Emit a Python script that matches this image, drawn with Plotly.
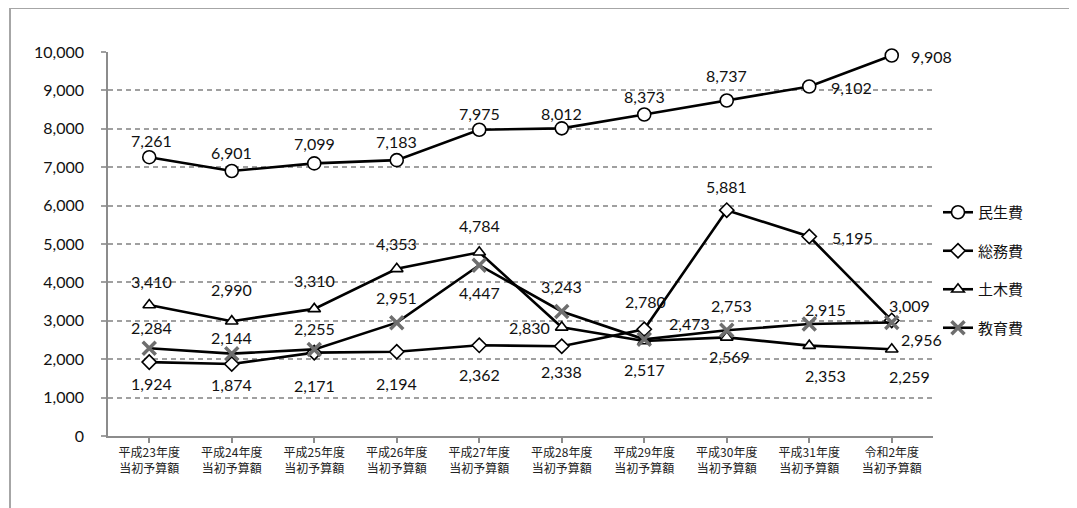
import plotly.graph_objects as go

categories = ["平成23年度<br>当初予算額", "平成24年度<br>当初予算額", "平成25年度<br>当初予算額",
              "平成26年度<br>当初予算額", "平成27年度<br>当初予算額", "平成28年度<br>当初予算額",
              "平成29年度<br>当初予算額", "平成30年度<br>当初予算額", "平成31年度<br>当初予算額",
              "令和2年度<br>当初予算額"]

minsei = [7261, 6901, 7099, 7183, 7975, 8012, 8373, 8737, 9102, 9908]
somu = [1924, 1874, 2171, 2194, 2362, 2338, 2780, 5881, 5195, 3009]
doboku = [3410, 2990, 3310, 4353, 4784, 2830, 2473, 2569, 2353, 2259]
kyoiku = [2284, 2144, 2255, 2951, 4447, 3243, 2517, 2753, 2915, 2956]

series_names = ["民生費", "総務費", "土木費", "教育費"]

# data-label offsets from each point, in pixels (dx, dy; dy positive = down)
off_minsei = [(2, -17), (0, -19), (0, -20), (0, -19), (0, -16), (0, -15), (0, -18), (0, -25), (42, 1), (40, 1)]
off_somu = [(2, 21), (0, 20), (0, 33), (0, 32), (0, 29), (0, 25), (1, -28), (0, -24), (43, 1), (18, -15)]
off_doboku = [(2, -24), (0, -32), (0, -28), (0, -25), (0, -27), (-32, 0), (45, -18), (3, 19), (16, 30), (18, 27)]
off_kyoiku = [(2, -21), (0, -16), (0, -21), (0, -25), (0, 27), (0, -25), (0, 30), (5, -25), (16, -15), (30, 17)]

x = list(range(len(categories)))
LBL = dict(family="Lato, 'Liberation Sans', sans-serif", size=16, color="#111111")

fig = go.Figure()
annotations = []


def add(vals, name, symbol, size, mcolor, mline, offs, lw=1.6):
    fig.add_trace(go.Scatter(
        x=x, y=vals, name=name, legendgroup=name,
        mode="lines+markers",
        line=dict(color="black", width=2.6),
        marker=dict(symbol=symbol, size=size, color=mcolor,
                    line=dict(color=mline, width=lw)),
        cliponaxis=False,
    ))
    for xi, v, (dx, dy) in zip(x, vals, offs):
        annotations.append(dict(x=xi, y=v, xref="x", yref="y", text=f"{v:,}",
                                showarrow=False, xshift=dx, yshift=-dy, font=LBL,
                                xanchor="center", yanchor="middle"))


add(minsei, series_names[0], "circle", 13, "white", "black", off_minsei)
add(somu, series_names[1], "diamond", 11, "white", "black", off_somu)
add(doboku, series_names[2], "triangle-up", 11, "white", "black", off_doboku)
add(kyoiku, series_names[3], "x-thin", 13, "#6e6e6e", "#6e6e6e", off_kyoiku, lw=3.5)

# page body has an 8px margin: work in page pixels, convert to figure pixels
OFF = 8
FW, FH = 1077 - OFF, 508 - OFF
L, R, T, B = 108 - OFF, 933 - OFF, 52 - OFF, 436 - OFF
W, H = R - L, B - T
def px(xp): return (xp - OFF - L) / W
def py(yp): return (B - (yp - OFF)) / H
frame = dict(color="#a6a6a6", width=2)
fig.add_shape(type="line", xref="paper", yref="paper", x0=px(10), x1=px(10), y0=py(508), y1=py(8), line=frame)
fig.add_shape(type="line", xref="paper", yref="paper", x0=px(10), x1=px(1077), y0=py(8), y1=py(8), line=frame)

fig.update_layout(
    width=FW, height=FH,
    margin=dict(l=L, r=FW - R, t=T, b=FH - B),
    paper_bgcolor="white", plot_bgcolor="white",
    showlegend=True,
    annotations=annotations,
    legend=dict(x=px(938), xanchor="left", y=py(196), yanchor="top",
                font=dict(family="'Noto Sans CJK JP', sans-serif", size=15, color="#111111"),
                tracegroupgap=16, itemwidth=30, itemsizing="trace",
                bgcolor="rgba(0,0,0,0)"),
    xaxis=dict(
        range=[-0.5, 9.5], tickmode="array", tickvals=x, ticktext=categories,
        showgrid=False, zeroline=False,
        showline=True, linecolor="#8c8c8c", linewidth=1.5,
        ticks="outside", ticklen=5, tickcolor="#8c8c8c", tickwidth=1.5,
        tickson="boundaries",
        tickfont=dict(family="'Noto Sans CJK JP', sans-serif", size=12, color="#222222"),
        fixedrange=True,
    ),
    yaxis=dict(
        range=[0, 10000], tickmode="linear", tick0=0, dtick=1000, tickformat=",",
        showgrid=True, gridcolor="#a0a0a0", gridwidth=1.5, griddash="5px,4px",
        zeroline=False, showline=True, linecolor="#8c8c8c", linewidth=1.5,
        ticks="outside", ticklen=5, tickcolor="#a0a0a0", tickwidth=1.5,
        ticklabelstandoff=14,
        tickfont=LBL, fixedrange=True,
    ),
)

fig.write_html("out.html")
